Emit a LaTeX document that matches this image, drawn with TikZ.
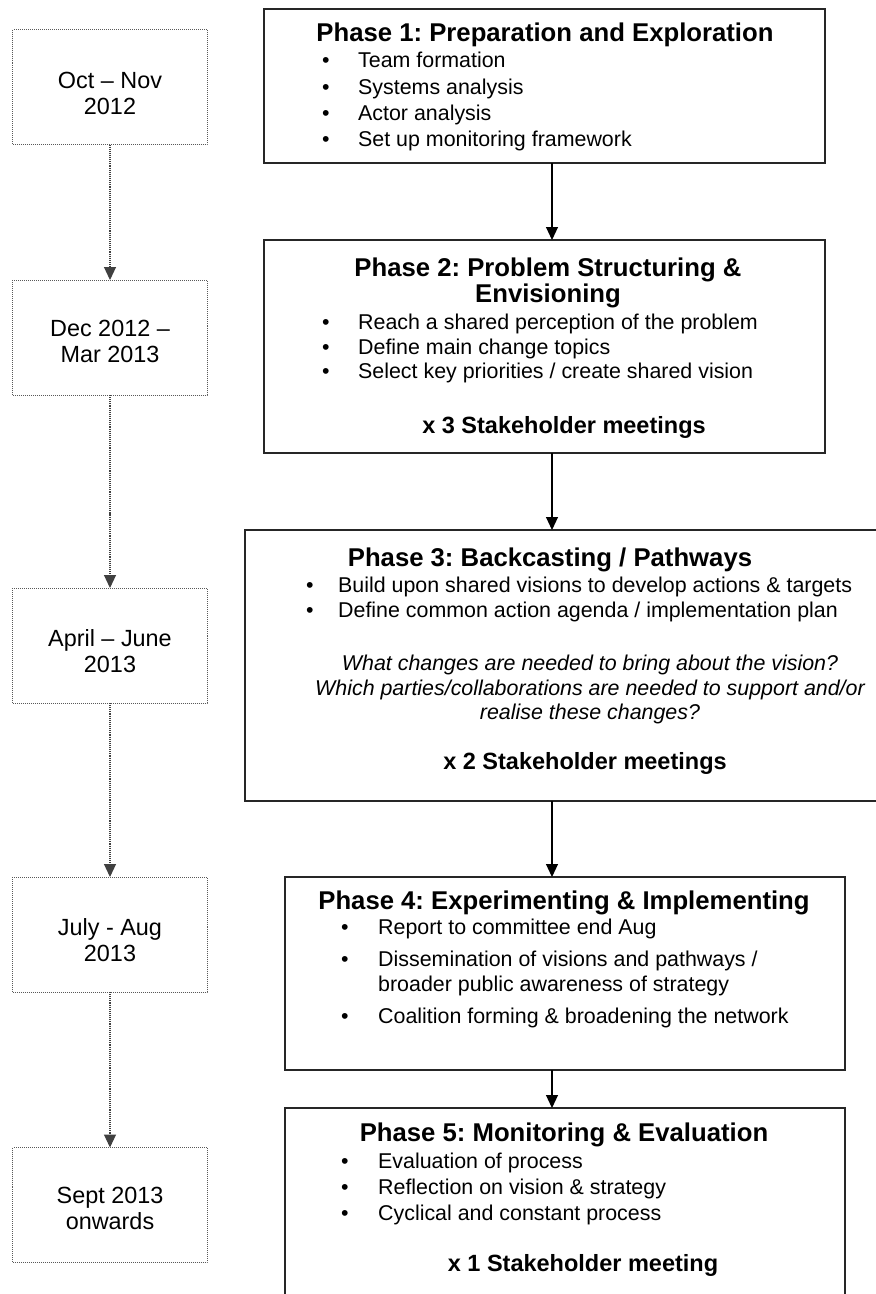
\documentclass[tikz,border=0pt]{standalone}
\usepackage{fontspec}
\setmainfont{Liberation Sans}
\usetikzlibrary{arrows.meta}
\frenchspacing
\begin{document}
\begin{tikzpicture}[x=1bp,y=-1bp,
  phase/.style={draw=black!85, line width=1.3bp, rectangle, inner sep=0pt, outer sep=0pt},
  datebox/.style={draw=black!65, densely dotted, line width=1bp, rectangle, inner sep=0pt, outer sep=0pt, minimum width=194bp, minimum height=115bp},
  datetext/.style={inner sep=0pt, anchor=center, font=\fontsize{23.4bp}{26bp}\selectfont},
  ttl/.style={inner sep=0pt, anchor=base, font=\fontsize{25.7bp}{26bp}\selectfont\bfseries},
  meet/.style={inner sep=0pt, anchor=base, font=\fontsize{23.5bp}{27bp}\selectfont\bfseries},
  blist/.style={inner sep=0pt, anchor=base west, font=\fontsize{21.4bp}{26.3bp}\selectfont},
  blistb/.style={inner sep=0pt, anchor=base west, font=\fontsize{21.4bp}{24.5bp}\selectfont},
  quest/.style={inner sep=0pt, anchor=base, font=\fontsize{21.4bp}{24.5bp}\selectfont\itshape},
  flow/.style={draw=black, line width=1.1bp, -{Triangle[length=13bp,width=12bp]}},
  tflow/.style={draw=black!75, densely dotted, line width=1.1bp, -{Triangle[length=13bp,width=12bp]}},
]
\useasboundingbox (0,0) rectangle (876,1294);
\clip (0,0) rectangle (876,1294);
\fill[white] (0,0) rectangle (876,1294);

% date boxes
\node[datebox] (d1) at (110,87) {};
\node[datebox] (d2) at (110,337.5) {};
\node[datebox] (d3) at (110,645.5) {};
\node[datebox] (d4) at (110,934.5) {};
\node[datebox] (d5) at (110,1205) {};
\node[datetext] (dt1) at (110,96.5) {\begin{tabular}{@{}c@{}}Oct – Nov\\2012\end{tabular}};
\node[datetext] (dt2) at (110,344.5) {\begin{tabular}{@{}c@{}}Dec 2012 –\\Mar 2013\end{tabular}};
\node[datetext] (dt3) at (110,654.5) {\begin{tabular}{@{}c@{}}April – June\\2013\end{tabular}};
\node[datetext] (dt4) at (110,943) {\begin{tabular}{@{}c@{}}July - Aug\\2013\end{tabular}};
\node[datetext] (dt5) at (110,1211) {\begin{tabular}{@{}c@{}}Sept 2013\\onwards\end{tabular}};
\draw[tflow] (d1.south) -- (d2.north);
\draw[tflow] (d2.south) -- (d3.north);
\draw[tflow] (d3.south) -- (d4.north);
\draw[tflow] (d4.south) -- (d5.north);

% phase boxes
\node[phase, minimum width=561bp, minimum height=154bp] (p1) at (544.5,86) {};
\node[phase, minimum width=561bp, minimum height=213bp] (p2) at (544.5,346.5) {};
\node[phase, minimum width=685bp, minimum height=271bp] (p3) at (587.5,665.5) {};
\node[phase, minimum width=560bp, minimum height=193bp] (p4) at (565,973.5) {};
\node[phase, minimum width=560bp, minimum height=202bp] (p5) at (565,1209) {};

% phase 1
\node[ttl] (t1) at (545,41) {Phase 1: Preparation and Exploration};
\node[blist] (b1) at (322,67.7) {\begin{tabular}[t]{@{}l@{\hspace{28.5bp}}l@{}}
\textbullet & Team formation\\
\textbullet & Systems analysis\\
\textbullet & Actor analysis\\
\textbullet & Set up monitoring framework
\end{tabular}};

% phase 2
\node[ttl] (t2) at (548,276) {\begin{tabular}[t]{@{}c@{}}Phase 2: Problem Structuring \&\\Envisioning\end{tabular}};
\node[blistb] (b2) at (322,329.7) {\begin{tabular}[t]{@{}l@{\hspace{28.5bp}}l@{}}
\textbullet & Reach a shared perception of the problem\\
\textbullet & Define main change topics\\
\textbullet & Select key priorities / create shared vision
\end{tabular}};
\node[meet] (m2) at (564,433.5) {x 3 Stakeholder meetings};

% phase 3
\node[ttl] (t3) at (550,566) {Phase 3: Backcasting / Pathways};
\node[blist, font=\fontsize{21.4bp}{25bp}\selectfont] (b3) at (306,592.7) {\begin{tabular}[t]{@{}l@{\hspace{24.5bp}}l@{}}
\textbullet & Build upon shared visions to develop actions \& targets\\
\textbullet & Define common action agenda / implementation plan
\end{tabular}};
\node[quest] (q3) at (590,670.7) {\begin{tabular}[t]{@{}c@{}}
What changes are needed to bring about the vision?\\
Which parties/collaborations are needed to support and/or\\
realise these changes?
\end{tabular}};
\node[meet] (m3) at (585,769.5) {x 2 Stakeholder meetings};

% phase 4
\node[ttl] (t4) at (564,909) {Phase 4: Experimenting \& Implementing};
\node[blistb] (b4) at (341,934.7) {\begin{tabular}[t]{@{}l@{\hspace{29.5bp}}l@{}}
\textbullet & Report to committee end Aug\\[7.5bp]
\textbullet & Dissemination of visions and pathways /\\
 & broader public awareness of strategy\\[8bp]
\textbullet & Coalition forming \& broadening the network
\end{tabular}};

% phase 5
\node[ttl] (t5) at (564,1141) {Phase 5: Monitoring \& Evaluation};
\node[blist, font=\fontsize{21.4bp}{26bp}\selectfont] (b5) at (341,1168.7) {\begin{tabular}[t]{@{}l@{\hspace{29.5bp}}l@{}}
\textbullet & Evaluation of process\\
\textbullet & Reflection on vision \& strategy\\
\textbullet & Cyclical and constant process
\end{tabular}};
\node[meet] (m5) at (583,1271.5) {x 1 Stakeholder meeting};

% flow arrows
\coordinate (ax) at (552,0);
\draw[flow] (p1.south -| ax) -- (p2.north -| ax);
\draw[flow] (p2.south -| ax) -- (p3.north -| ax);
\draw[flow] (p3.south -| ax) -- (p4.north -| ax);
\draw[flow] (p4.south -| ax) -- (p5.north -| ax);
\end{tikzpicture}
\end{document}
